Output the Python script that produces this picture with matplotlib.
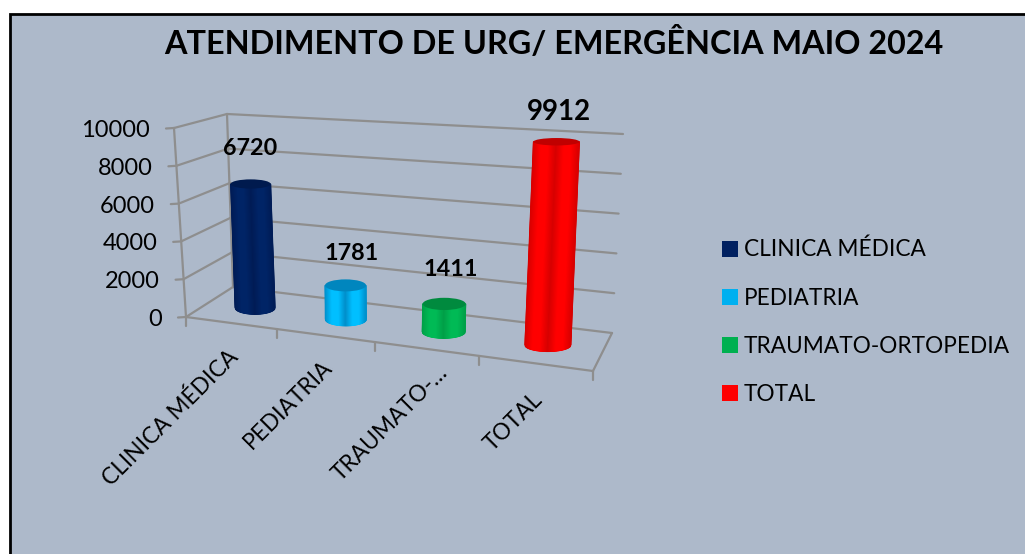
import numpy as np
import matplotlib
matplotlib.use("Agg")
import matplotlib.pyplot as plt
from matplotlib.colors import LinearSegmentedColormap
from matplotlib.patches import Ellipse, Patch, Rectangle

plt.rcParams["font.family"] = ["Lato", "DejaVu Sans"]

titulo = "ATENDIMENTO DE URG/ EMERGÊNCIA MAIO 2024"
categorias = ["CLINICA MÉDICA", "PEDIATRIA", "TRAUMATO-ORTOPEDIA", "TOTAL"]
rotulos_x = ["CLINICA MÉDICA", "PEDIATRIA", "TRAUMATO-…", "TOTAL"]
valores = [6720, 1781, 1411, 9912]
ticks_y = [0, 2000, 4000, 6000, 8000, 10000]

cores = ["#002060", "#00B0F0", "#00B050", "#FF0000"]
cores_claras = ["#002466", "#00BFFF", "#00BA55", "#FF0000"]
cores_bordas = ["#001C56", "#0090CC", "#00A048", "#D80000"]
cores_escuras = ["#001A4E", "#0086BE", "#008A3E", "#C00000"]
fundo = "#ADB9CA"
grade = "#8E8E8E"

# cantos da caixa 3D em pixels da imagem
FE_BASE, FE_TOPO = np.array([186, 317.0]), np.array([174, 128.0])
TE_BASE, TE_TOPO = np.array([233, 287.0]), np.array([227, 114.0])
FD_BASE, FD_TOPO = np.array([593, 371.0]), np.array([605, 152.0])
TD_BASE, TD_TOPO = np.array([612, 333.0]), np.array([623, 134.0])
VMAX = 10000

# posicoes ao longo do eixo (a perspectiva deixa o espacamento desigual)
pos_barras = [0.116, 0.347, 0.596, 0.861]
pos_ticks = [0.0, 0.224, 0.465, 0.72, 1.0]
raios = [20, 20.5, 21.5, 23]
desloc_rotulos = [(-1, -35), (6, -32), (7, -34), (2, -30)]
pontas_x = [(235, 354), (329, 364), (444, 369), (539, 396)]


def proj(u, w, v):
    # u: largura, w: profundidade, v: valor
    f = v / VMAX
    fe = FE_BASE + (FE_TOPO - FE_BASE) * f
    te = TE_BASE + (TE_TOPO - TE_BASE) * f
    fd = FD_BASE + (FD_TOPO - FD_BASE) * f
    td = TD_BASE + (TD_TOPO - TD_BASE) * f
    esq = fe + (te - fe) * w
    dir_ = fd + (td - fd) * w
    return esq + (dir_ - esq) * u


def linha(ax, a, b, lw=1.6):
    ax.plot([a[0], b[0]], [a[1], b[1]], color=grade, lw=lw, solid_capstyle="round", zorder=2)


def cilindro(ax, u, valor, raio, clara, borda, escura):
    base = proj(u, 0.5, 0)
    topo = proj(u, 0.5, valor)
    sb = 6.5
    st = 6.5 - 2.8 * valor / VMAX

    t = np.linspace(-1, 1, 81)
    X = np.vstack([base[0] + raio * t, topo[0] + raio * t])
    Y = np.vstack([base[1] + sb * np.sqrt(1 - t**2), np.full_like(t, topo[1])])
    cmap = LinearSegmentedColormap.from_list("c", [borda, clara, clara, borda])
    cor = np.vstack([1 - np.abs(t), 1 - np.abs(t)])
    ax.pcolormesh(X, Y, cor, cmap=cmap, shading="gouraud", zorder=3, vmin=0, vmax=1)
    ax.add_patch(Ellipse(topo, 2 * raio, 2 * st, facecolor=escura, edgecolor="none", zorder=4))
    return topo


fig = plt.figure(figsize=(10.25, 5.54), dpi=100, facecolor="white")
ax = fig.add_axes([0, 0, 1, 1])
ax.set_xlim(0, 1025)
ax.set_ylim(554, 0)
ax.axis("off")

ax.add_patch(Rectangle((10, 13.5), 1030, 560, facecolor=fundo, edgecolor="black", lw=2, zorder=0))
ax.text(554, 43, titulo, fontsize=23.3, fontweight="bold", ha="center", va="center", color="black")

# paredes e grade
for v in ticks_y:
    linha(ax, proj(0, 0, v), proj(0, 1, v))
    linha(ax, proj(0, 1, v), proj(1, 1, v))
    ini = proj(0, 0, v)
    linha(ax, ini, ini + np.array([-8, 0.5]))
    ax.text(ini[0] - 24, ini[1] + 2.5, str(v), fontsize=17, ha="right", va="center", color="black")
linha(ax, proj(0, 0, 0), proj(0, 0, VMAX))
linha(ax, proj(0, 1, 0), proj(0, 1, VMAX))
linha(ax, proj(0, 0, 0), proj(1, 0, 0))
linha(ax, proj(1, 0, 0), proj(1, 1, 0))
for u in pos_ticks:
    ini = proj(u, 0, 0)
    linha(ax, ini, ini + np.array([0, 9]))

# cilindros
for i, v in enumerate(valores):
    topo = cilindro(ax, pos_barras[i], v, raios[i], cores_claras[i], cores_bordas[i], cores_escuras[i])
    dx, dy = desloc_rotulos[i]
    ax.text(topo[0] + dx, topo[1] + dy, str(v), fontsize=16.8 if i < 3 else 20, fontweight="bold",
            ha="center", va="center", color="black", zorder=5)

for rot, p in zip(rotulos_x, pontas_x):
    ax.text(p[0], p[1], rot, fontsize=16.3, rotation=45, rotation_mode="anchor", ha="right", va="center",
            color="black")

handles = [Patch(facecolor=c, edgecolor="none", label=n) for c, n in zip(cores, categorias)]
ax.legend(handles=handles, loc="upper left", bbox_to_anchor=(722 / 1025, 1 - 239 / 554), frameon=False,
          fontsize=16.3, handlelength=0.72, handleheight=0.72, handletextpad=0.25, labelspacing=1.2,
          borderpad=0, borderaxespad=0)

fig.savefig("out.png", dpi=100)
